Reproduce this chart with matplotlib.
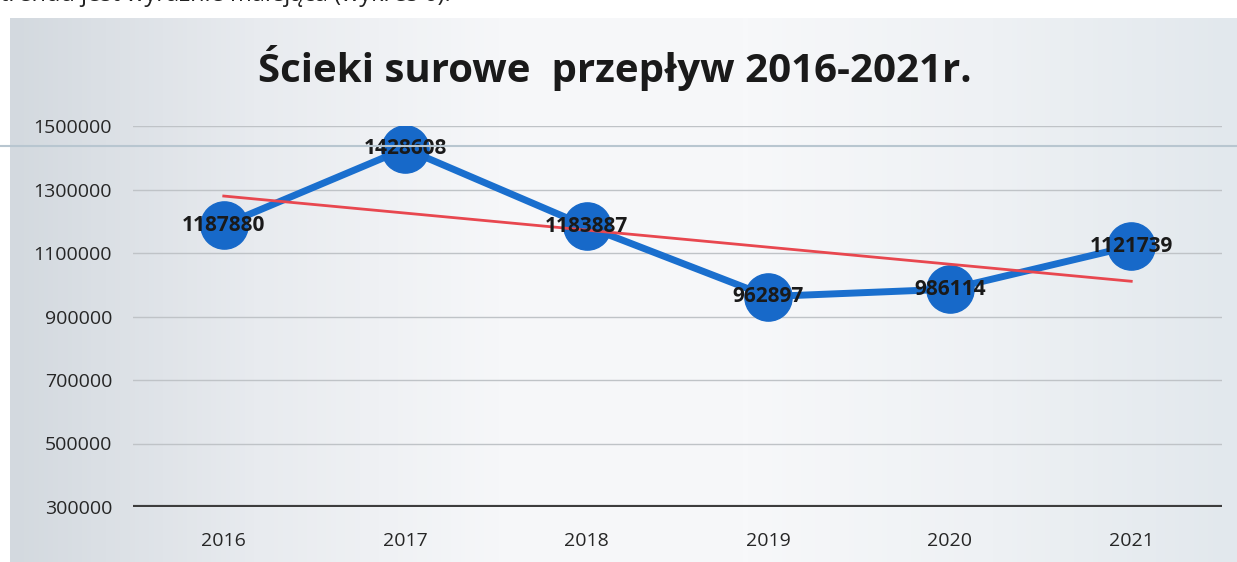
import numpy as np
import matplotlib
matplotlib.use("Agg")
import matplotlib.pyplot as plt
from matplotlib.colors import LinearSegmentedColormap

years = ["2016", "2017", "2018", "2019", "2020", "2021"]
flow = [1187880, 1428608, 1183887, 962897, 986114, 1121739]
flow_labels = ["1187880", "1428608", "1183887", "962897", "986114", "1121739"]
y_ticks = [300000, 500000, 700000, 900000, 1100000, 1300000, 1500000]

W, H = 1237, 562
fig = plt.figure(figsize=(W / 100, H / 100), dpi=100)
fig.patch.set_facecolor("white")

# scanned background: greyish on the left fading to pale blue-white
bg = fig.add_axes([10 / W, 0, 1 - 10 / W, 1 - 18 / H], zorder=0)
grad = np.linspace(0, 1, 256).reshape(1, -1)
cmap = LinearSegmentedColormap.from_list(
    "bg", ["#d3d9df", "#e8ebef", "#f6f7f9", "#f7f8fa", "#eef1f4", "#e2e8ed"])
bg.imshow(grad, aspect="auto", cmap=cmap, extent=[0, 1, 0, 1])
bg.set_axis_off()

# line of text from the page above the chart, cut by the scan edge
fig.text(0, 1 + 5 / H, "trendu jest wyraźnie malejąca (wykres 6).",
         fontsize=17, family="Open Sans", color="#222222", va="center", ha="left")

ax = fig.add_axes([133 / W, 1 - 507 / H, (1222 - 133) / W, (507 - 126) / H], zorder=2)
ax.patch.set_alpha(0)
x = np.arange(len(years))

ax.set_xlim(-0.5, len(years) - 0.5)
ax.set_ylim(300000, 1500000)
ax.set_yticks(y_ticks)
ax.set_yticklabels([str(v) for v in y_ticks])
ax.set_xticks(x)
ax.set_xticklabels(years)
ax.tick_params(axis="y", length=0, pad=15, labelsize=14, labelcolor="#262626")
ax.tick_params(axis="x", length=0, pad=18, labelsize=14, labelcolor="#262626")
for lab in ax.get_xticklabels() + ax.get_yticklabels():
    lab.set_family("Open Sans")

for v in y_ticks[1:]:
    ax.axhline(v, color="#bfc3c7", lw=1.0, zorder=1)
for s in ax.spines.values():
    s.set_visible(False)
ax.axhline(300000, color="#3d3d3d", lw=3, zorder=2)

# data series
ax.plot(x, flow, color="#1a6fce", lw=5, zorder=3, solid_capstyle="round")
ax.plot(x, flow, "o", ms=34, color="#1769c9", zorder=4)

# linear trend line
k, b = np.polyfit(x, flow, 1)
ax.plot(x, k * x + b, color="#e8474f", lw=2, zorder=5)

for xi, yi, lab in zip(x, flow, flow_labels):
    ax.text(xi, yi, lab, ha="center", va="center", fontsize=15,
            fontweight="bold", color="#1a1a1a", family="Open Sans", zorder=6)

# scanning artefact line across the page
fig.add_artist(plt.Line2D([0, 1], [1 - 146 / H, 1 - 146 / H],
                          color="#b8c6d0", lw=1.5, zorder=3))

fig.text(0.497, 1 - 68 / H, "Ścieki surowe  przepływ 2016-2021r.",
         fontsize=29, fontweight="bold", family="Open Sans", color="#1a1a1a",
         ha="center", va="center")

fig.savefig("out.png", dpi=100)
